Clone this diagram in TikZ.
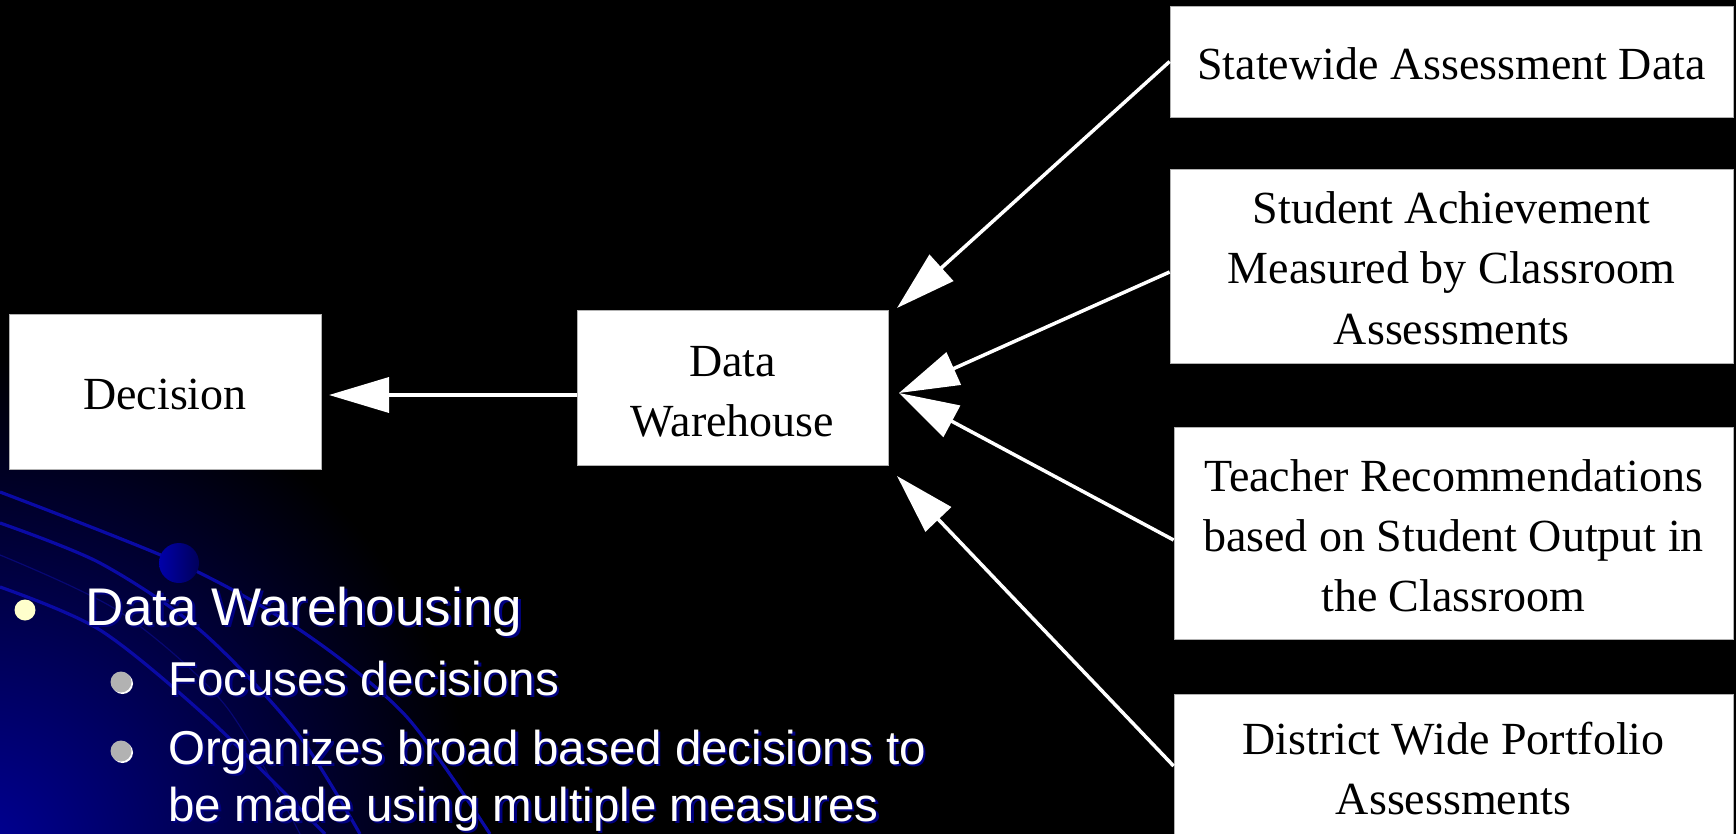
\documentclass[tikz,border=0pt]{standalone}
\usepackage{fontspec}
\setmainfont{Liberation Serif}
\newfontfamily\arialf{Liberation Sans}
\usetikzlibrary{arrows.meta,shadings}
\definecolor{navy}{RGB}{0,0,128}
\definecolor{swirl}{RGB}{10,10,165}
\definecolor{bgblue}{RGB}{0,0,150}
\definecolor{ylw}{RGB}{255,255,204}
\definecolor{gry}{RGB}{178,178,178}
\definecolor{ballA}{RGB}{0,0,170}
\definecolor{ballB}{RGB}{0,0,90}
\newcommand{\shtxt}[1]{\makebox[0pt][l]{\hspace{2.5pt}\raisebox{-2.5pt}{\color{navy}#1}}{\color{white}#1}}
\newcommand{\bt}[1]{\raisebox{-6pt}[\height][\depth]{\begin{tabular}{@{}c@{}}#1\end{tabular}}}
\begin{document}
\begin{tikzpicture}[x=1pt,y=-1pt,
  box/.style={draw=gray!60, line width=0.8pt, fill=white, inner sep=0pt,
              font=\fontsize{46pt}{60pt}\selectfont, text=black},
  arr/.style={draw=white, line width=3.5pt, -{Triangle[length=60pt,width=35pt]}},
  swl/.style={draw=swirl, line width=3.2pt},
  bul/.style={anchor=base west, inner sep=0pt, font=\arialf\fontsize{47.5pt}{57pt}\selectfont},
]
\fill[black] (0,0) rectangle (1736,834);
\useasboundingbox (0,0) rectangle (1736,834);
\begin{scope}
  \clip (0,0) rectangle (1736,834);
  \shade[inner color=bgblue, outer color=black] (-20,854) circle (500);
  \draw[swl] plot[smooth] coordinates {(0,492) (179,563) (300,630) (405,715) (490,834)};
  \draw[swl] plot[smooth] coordinates {(0,523) (100,563) (200,630) (295,730) (360,834)};
  \draw[draw=swirl!70!black, line width=1.2pt] plot[smooth] coordinates {(0,555) (120,612) (225,705) (300,834)};
  \draw[swl] plot[smooth] coordinates {(0,587) (100,630) (210,720) (325,834)};
  \shade[left color=ballA, right color=ballB] (179,563) circle (20);
\end{scope}

\node[box, minimum width=312pt, minimum height=155pt] (dec) at (165,391.5) {\bt{Decision}};
\node[box, minimum width=311pt, minimum height=155pt] (dw) at (732.5,388) {\bt{Data\\Warehouse}};
\node[box, minimum width=563pt, minimum height=111pt] (sw) at (1451.5,61.5) {\bt{Statewide Assessment Data}};
\node[box, minimum width=563pt, minimum height=194pt] (sa) at (1451.5,266) {\bt{Student Achievement\\Measured by Classroom\\Assessments}};
\node[box, minimum width=559pt, minimum height=212pt] (tr) at (1453.5,533) {\bt{Teacher Recommendations\\based on Student Output in\\the Classroom}};
\node[box, minimum width=559pt, minimum height=144pt] (dwp) at (1453.5,766) {\bt{District Wide Portfolio\\Assessments}};

\coordinate (t1) at (897,308);
\coordinate (t23) at (899,393);
\coordinate (t4) at (897,476);
\coordinate (tdec) at (329,395);
\draw[arr] (sw.west) -- (t1);
\draw[arr] ([yshift=-6pt]sa.west) -- (t23);
\draw[arr] ([yshift=-7pt]tr.west) -- (t23);
\draw[arr] (dwp.west) -- (t4);
\draw[arr] ([yshift=-7pt]dw.west) -- (tdec);

\fill[ylw] (25,610) circle (10.5);
\fill[white] (122.5,683.5) circle (10.5);
\fill[gry] (121,682) circle (10.5);
\fill[white] (122.5,752.5) circle (10.5);
\fill[gry] (121,751) circle (10.5);
\node[bul, font=\arialf\fontsize{53pt}{60pt}\selectfont] (b1) at (85,625) {\shtxt{Data Warehousing}};
\node[bul] (b2) at (168,695) {\shtxt{Focuses decisions}};
\node[bul] (b3) at (168,764) {\shtxt{Organizes broad based decisions to}};
\node[bul] (b4) at (168,821) {\shtxt{be made using multiple measures}};
\end{tikzpicture}
\end{document}
